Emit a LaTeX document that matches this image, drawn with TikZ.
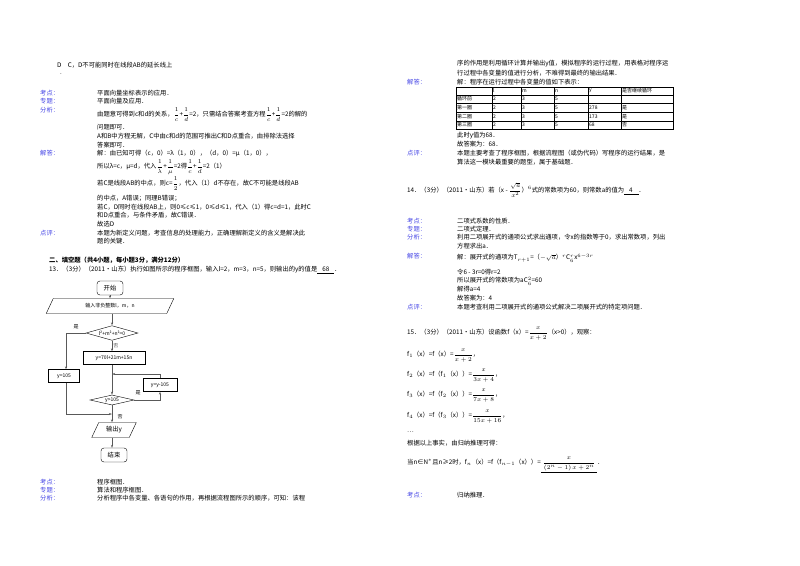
\documentclass[tikz,border=0pt]{standalone}
\usepackage{fontspec}
\setmainfont{Noto Sans CJK SC}
\usetikzlibrary{shapes.geometric,arrows.meta}
\definecolor{lbl}{RGB}{70,70,230}
\newcommand\fs{\fontsize{6.3pt}{8pt}\selectfont}
\newcommand\fss{\fontsize{5pt}{6pt}\selectfont}
\newcommand\fr[2]{$\displaystyle\frac{#1}{#2}$}
\begin{document}
\begin{tikzpicture}[x=1pt,y=-1pt,
  txt/.style={anchor=west,inner sep=0pt,font=\fs},
  tb/.style={anchor=west,inner sep=0pt,font=\fss},
  lab/.style={anchor=west,inner sep=0pt,font=\fs,text=lbl},
  term/.style={draw,rounded corners=3pt,minimum width=26pt,minimum height=14pt,inner sep=1pt,font=\fs},
  io/.style={draw,trapezium,trapezium left angle=65,trapezium right angle=115,inner sep=1pt,minimum height=15pt,font=\fss},
  dec/.style={draw,diamond,aspect=2.6,inner sep=0pt,font=\fss},
  proc/.style={draw,inner sep=1pt,minimum height=13pt,font=\fss},
  arr/.style={-{Stealth[length=3pt,width=2pt]},gray!70!black,line width=0.5pt}]
\useasboundingbox (0,0) rectangle (800,565);
\fill[white] (0,0) rectangle (800,565);
% ---- left column
\node[txt] (l0) at (57,65) {D\quad C，D不可能同时在线段AB的延长线上};
\node[txt] (l0b) at (60,74) {.};
\node[lab] (k1) at (40,93) {考点：}; \node[txt] at (97,93) {平面向量坐标表示的应用．};
\node[lab] (k2) at (40,101) {专题：}; \node[txt] at (97,101) {平面向量及应用．};
\node[lab] (k3) at (40,110) {分析：};
\node[txt] at (97,115) {由题意可得到c和d的关系，\fr{1}{c}+\fr{1}{d}=2，只需结合答案考查方程\fr{1}{c}+\fr{1}{d}=2的解的};
\node[txt] at (97,127) {问题即可．};
\node[txt] at (97,136) {A和B中方程无解，C中由c和d的范围可推出C和D点重合，由排除法选择};
\node[txt] at (97,145) {答案即可．};
\node[lab] (k4) at (40,153) {解答：}; \node[txt] at (97,153) {解：由已知可得（c，0）=λ（1，0），（d，0）=μ（1，0），};
\node[txt] at (97,167) {所以λ=c，μ=d，代入\fr{1}{\lambda}+\fr{1}{\mu}=2得\fr{1}{c}+\fr{1}{d}=2（1）};
\node[txt] at (97,184) {若C是线段AB的中点，则c=\fr{1}{2}，代入（1）d不存在，故C不可能是线段AB};
\node[txt] at (97,198) {的中点，A错误；同理B错误；};
\node[txt] at (97,207) {若C，D同时在线段AB上，则0≤c≤1，0≤d≤1，代入（1）得c=d=1，此时C};
\node[txt] at (97,215) {和D点重合，与条件矛盾，故C错误．};
\node[txt] at (97,224) {故选D};
\node[lab] (k5) at (40,233) {点评：}; \node[txt] at (97,233) {本题为新定义问题，考查信息的处理能力，正确理解新定义的含义是解决此};
\node[txt] at (97,241) {题的关键．};
\node[txt,font=\fs\bfseries] (sec) at (49,260) {二、填空题（共4小题，每小题3分，满分12分）};
\node[txt] (q13) at (49,270) {13．（3分）（2011•山东）执行如图所示的程序框图，输入l=2，m=3，n=5，则输出的y的值是\underline{\hspace{5pt}68\hspace{5pt}}．};
% ---- flowchart
\node[term] (st) at (110,288) {开始};
\node[io,minimum width=68pt] (inp) at (110,306) {输入非负整数l，m，n};
\node[dec,minimum width=52pt] (d1) at (112,333) {l²+m²+n²=0};
\node[proc,minimum width=62pt] (pr) at (114,358) {y=70l+21m+15n};
\node[proc,minimum width=31pt] (y1) at (64,376) {y=105};
\node[dec,minimum width=44pt] (d2) at (112,400) {y>105};
\node[proc,minimum width=34pt] (sb) at (160,385) {y=y-105};
\node[io,minimum width=28pt,font=\fs] (out) at (114,430) {输出y};
\node[term] (en) at (114,455) {结束};
\coordinate (j1) at (112,374);
\coordinate (j2) at (112,414);
\draw[arr] (st) -- (inp);
\draw[arr] (inp.south -| d1) -- (d1);
\draw[arr] (d1) -- (pr.north -| d1) node[pos=0.45,right,inner sep=1pt,font=\fss]{否};
\draw[arr] (d1.west) -- (66,333) -- (y1.north -| 66,0);
\node[font=\fss] (lb1) at (76,327) {是};
\draw[arr] (pr.south -| d2) -- (d2);
\draw[arr] (d2.east) -- (160,400) -- (sb.south);
\node[font=\fss] (lb2) at (138,393) {是};
\draw[arr] (sb.north) -- (160,374) -- (j1);
\draw[arr] (y1.south -| 66,0) -- (66,414) -- (j2);
\draw[arr] (d2.south) -- (out.north -| d2);
\node[font=\fss] (lb3) at (120,417) {否};
\draw[arr] (out.south -| d2) -- (en.north -| d2);
\node[lab] at (40,482) {考点：}; \node[txt] at (97,482) {程序框图．};
\node[lab] at (40,490) {专题：}; \node[txt] at (97,490) {算法和程序框图．};
\node[lab] at (40,498) {分析：}; \node[txt] at (97,498) {分析程序中各变量、各语句的作用，再根据流程图所示的顺序，可知：该程};
% ---- right column
\node[txt] at (457,64) {序的作用是利用循环计算并输出y值，模拟程序的运行过程，用表格对程序运};
\node[txt] at (457,73) {行过程中各变量的值进行分析，不难得到最终的输出结果．};
\node[lab] at (407,82) {解答：}; \node[txt] at (457,82) {解：程序在运行过程中各变量的值如下表示：};
\draw[line width=0.6pt] (456,87) rectangle (673,129);
\foreach \yy in {95,103,112,121} \draw[line width=0.5pt] (456,\yy) -- (673,\yy);
\foreach \xx in {492,521,554,588,621} \draw[line width=0.5pt] (\xx,87) -- (\xx,129);
\foreach \xx/\t in {492/l,521/m,554/n,588/y,621/是否继续循环} \node[tb] at (\xx+1,91) {\t};
\foreach \yy/\a/\b/\c in {99/循环前//,107.5/第一圈/278/是,116.5/第二圈/173/是,125/第三圈/68/否}{
  \node[tb] at (457,\yy) {\a};
  \node[tb] at (493,\yy) {2}; \node[tb] at (522,\yy) {3}; \node[tb] at (555,\yy) {5};
  \node[tb] at (589,\yy) {\b}; \node[tb] at (622,\yy) {\c};}
\node[txt] at (457,136) {此时y值为68．};
\node[txt] at (457,144) {故答案为：68．};
\node[lab] at (407,153) {点评：}; \node[txt] at (457,153) {本题主要考查了程序框图，根据流程图（或伪代码）写程序的运行结果，是};
\node[txt] at (457,162) {算法这一模块最重要的题型，属于基础题．};
\node[txt] (q14) at (407,190) {14．（3分）（2011•山东）若（x - \fr{\sqrt{a}}{x^2}）$^6$式的常数项为60，则常数a的值为\underline{\hspace{5pt}4\hspace{6pt}}．};
\node[lab] at (407,221) {考点：}; \node[txt] at (457,221) {二项式系数的性质．};
\node[lab] at (407,229) {专题：}; \node[txt] at (457,229) {二项式定理．};
\node[lab] at (407,237) {分析：}; \node[txt] at (457,237) {利用二项展开式的通项公式求出通项，令x的指数等于0，求出常数项，列出};
\node[txt] at (457,246) {方程求出a．};
\node[lab] at (407,256) {解答：}; \node[txt] at (457,258) {解：展开式的通项为T$_{r+1}$=（$-\sqrt{a}$）$^r$C$_6^r$x$^{6-3r}$};
\node[txt] at (457,272) {令6 - 3r=0得r=2};
\node[txt] at (457,281) {所以展开式的常数项为aC$_6^2$=60};
\node[txt] at (457,289) {解得a=4};
\node[txt] at (457,298) {故答案为：4};
\node[lab] at (407,307) {点评：}; \node[txt] at (457,307) {本题考查利用二项展开式的通项公式解决二项展开式的特定项问题．};
\node[txt] (q15) at (407,334) {15．（3分）（2011•山东）设函数f（x）=\fr{x}{x+2}（x>0），观察：};
\node[txt] at (407,356) {f$_1$（x）=f（x）=\fr{x}{x+2}，};
\node[txt] at (407,376) {f$_2$（x）=f（f$_1$（x））=\fr{x}{3x+4}，};
\node[txt] at (407,396) {f$_3$（x）=f（f$_2$（x））=\fr{x}{7x+8}，};
\node[txt] at (407,417) {f$_4$（x）=f（f$_3$（x））=\fr{x}{15x+16}，};
\node[txt] at (407,432) {…};
\node[txt] at (407,443) {根据以上事实，由归纳推理可得：};
\node[txt] at (407,465) {当n∈N$^*$且n≥2时，f$_n$（x）=f（f$_{n-1}$（x））=\underline{\hspace{2pt}\fr{x}{(2^n-1)\,x+2^n}\hspace{2pt}}．};
\node[lab] at (407,495) {考点：}; \node[txt] at (457,495) {归纳推理．};
\end{tikzpicture}
\end{document}
